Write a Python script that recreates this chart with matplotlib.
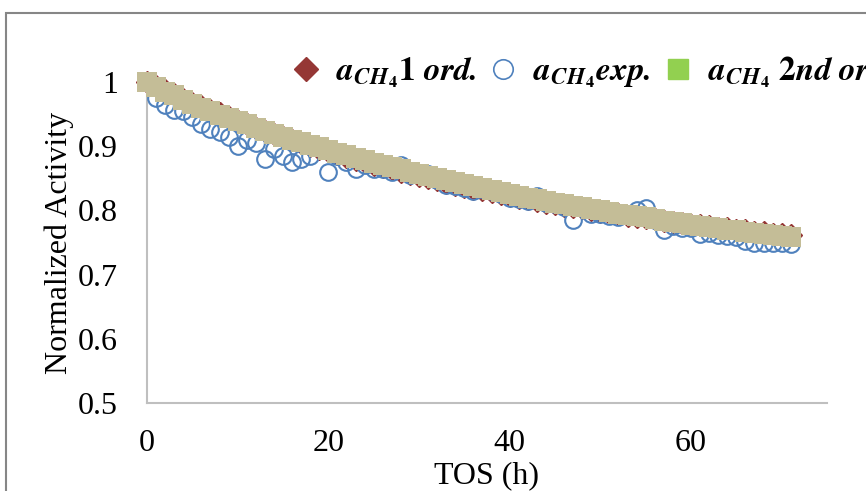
import numpy as np
import matplotlib.pyplot as plt
from matplotlib.lines import Line2D
from matplotlib.patches import Rectangle

plt.rcParams['font.family'] = ['Liberation Serif', 'DejaVu Serif']
plt.rcParams['mathtext.fontset'] = 'stix'

# time on stream (h)
tos = list(range(72))

# measured normalised CH4 activity
a_exp = [1.000, 0.975, 0.964, 0.957, 0.955, 0.945, 0.935, 0.927, 0.922, 0.915,
         0.900, 0.910, 0.905, 0.880, 0.895, 0.885, 0.875, 0.880, 0.885, 0.900,
         0.860, 0.885, 0.875, 0.865, 0.870, 0.865, 0.865, 0.860, 0.870, 0.855,
         0.858, 0.857, 0.848, 0.840, 0.838, 0.835, 0.830, 0.833, 0.830, 0.825,
         0.820, 0.818, 0.815, 0.823, 0.812, 0.810, 0.805, 0.785, 0.805, 0.795,
         0.795, 0.792, 0.790, 0.795, 0.800, 0.803, 0.785, 0.770, 0.775, 0.773,
         0.772, 0.763, 0.765, 0.762, 0.760, 0.758, 0.752, 0.750, 0.750, 0.750,
         0.750, 0.748]

# first order deactivation model
a_1ord = [1.000, 0.993, 0.987, 0.981, 0.974, 0.968, 0.962, 0.957, 0.951, 0.945,
          0.940, 0.935, 0.929, 0.924, 0.919, 0.914, 0.910, 0.905, 0.901, 0.896,
          0.892, 0.888, 0.883, 0.879, 0.875, 0.871, 0.868, 0.864, 0.860, 0.857,
          0.853, 0.850, 0.847, 0.843, 0.840, 0.837, 0.834, 0.831, 0.828, 0.825,
          0.823, 0.820, 0.817, 0.815, 0.812, 0.810, 0.807, 0.805, 0.803, 0.800,
          0.798, 0.796, 0.794, 0.792, 0.790, 0.788, 0.786, 0.784, 0.782, 0.780,
          0.778, 0.777, 0.775, 0.773, 0.772, 0.770, 0.769, 0.767, 0.766, 0.764,
          0.763, 0.761]

# second order deactivation model
a_2ord = [1.000, 0.992, 0.985, 0.979, 0.972, 0.966, 0.960, 0.955, 0.949, 0.944,
          0.939, 0.934, 0.929, 0.924, 0.919, 0.915, 0.910, 0.906, 0.902, 0.898,
          0.894, 0.890, 0.886, 0.882, 0.878, 0.874, 0.871, 0.867, 0.864, 0.860,
          0.857, 0.854, 0.850, 0.847, 0.844, 0.841, 0.838, 0.835, 0.832, 0.829,
          0.826, 0.823, 0.820, 0.818, 0.815, 0.812, 0.810, 0.807, 0.805, 0.802,
          0.800, 0.798, 0.795, 0.793, 0.791, 0.789, 0.786, 0.784, 0.782, 0.780,
          0.778, 0.776, 0.774, 0.772, 0.770, 0.769, 0.767, 0.765, 0.763, 0.762,
          0.760, 0.758]

labels = [r'$\mathbfit{a}_{\mathbfit{CH}_{\mathbf{4}}}\mathbf{1}\ \mathbfit{ord.}$',
          r'$\mathbfit{a}_{\mathbfit{CH}_{\mathbf{4}}}\mathbfit{exp.}$',
          r'$\mathbfit{a}_{\mathbfit{CH}_{\mathbf{4}}}\ \mathbf{2}\mathbfit{nd\ ord}$']

red = '#953735'
blue = '#4F81BD'
green = '#92D050'
tan = '#C4BD97'

fig = plt.figure(figsize=(8.66, 4.91), dpi=100)
ax = fig.add_axes([147 / 866, 88 / 491, 680 / 866, 321 / 491])

ax.plot(tos, a_1ord, 'D', color=red, ms=11, clip_on=False, zorder=3)
ax.plot(tos, a_exp, 'o', mfc='none', mec=blue, mew=1.5, ms=12, clip_on=False, zorder=4)
ax.plot(tos, a_2ord, 's', color=tan, ms=14.5, mew=0, clip_on=False, zorder=5)

ax.set_xlim(0, 75)
ax.set_ylim(0.5, 1)
ax.set_xticks([0, 20, 40, 60])
ax.set_yticks([0.5, 0.6, 0.7, 0.8, 0.9, 1])
ax.set_yticklabels(['0.5', '0.6', '0.7', '0.8', '0.9', '1'])
ax.tick_params(length=0, labelsize=23)
ax.tick_params(axis='y', pad=21)
ax.tick_params(axis='x', pad=19)
for side in ['top', 'right']:
    ax.spines[side].set_visible(False)
for side in ['left', 'bottom']:
    ax.spines[side].set_color('#BFBFBF')
    ax.spines[side].set_linewidth(1.5)

ax.set_xlabel('TOS (h)', fontsize=23)
ax.set_ylabel('Normalized Activity', fontsize=23)
ax.xaxis.set_label_coords(0.5, -0.18)
ax.yaxis.set_label_coords(-0.108, 0.5)

handles = [Line2D([], [], ls='none', marker='D', color=red, ms=12),
           Line2D([], [], ls='none', marker='o', mfc='none', mec=blue, mew=1.2, ms=14),
           Line2D([], [], ls='none', marker='s', color=green, ms=15)]
fig.legend(handles, labels, loc='center left', bbox_to_anchor=(273 / 866, 1 - 72 / 491),
           ncol=3, frameon=False, fontsize=24, handletextpad=0.4, columnspacing=0.3,
           borderpad=0, handlelength=1.0)

# chart area border
fig.patches.append(Rectangle((6 / 866, -0.1), 2, (478 / 491) + 0.1, transform=fig.transFigure,
                             fill=False, edgecolor='#868686', lw=1.5))

fig.savefig('out.png', dpi=100)
